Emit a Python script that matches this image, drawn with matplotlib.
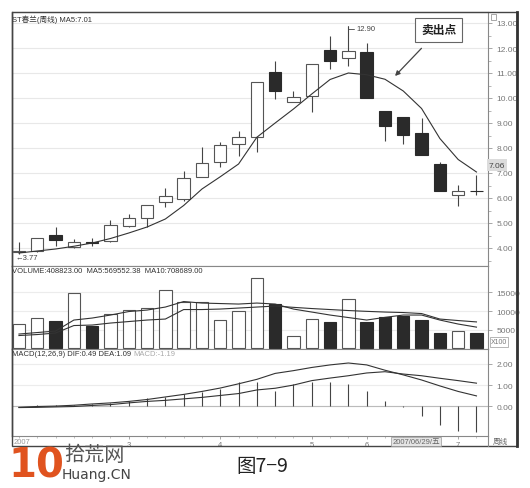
import matplotlib
matplotlib.use('Agg')
import matplotlib.pyplot as plt
from matplotlib.patches import Rectangle
from matplotlib.lines import Line2D

plt.rcParams['font.family'] = ['Liberation Sans', 'Noto Sans CJK SC', 'DejaVu Sans']

# 周线数据 (ST春兰)
opens = [3.85, 3.90, 4.52, 4.05, 4.24, 4.27, 4.90, 5.20, 5.85, 5.95, 6.85, 7.45, 8.16,
         8.45, 11.03, 9.85, 10.10, 11.93, 11.60, 11.85, 9.50, 9.25, 8.60, 7.38, 6.12, 6.28]
closes = [3.90, 4.40, 4.33, 4.25, 4.22, 4.92, 5.20, 5.72, 6.08, 6.80, 7.40, 8.12, 8.44,
          10.63, 10.30, 10.03, 11.35, 11.50, 11.90, 10.00, 8.90, 8.53, 7.72, 6.30, 6.28, 6.27]
highs = [4.25, 4.40, 4.84, 4.36, 4.40, 5.12, 5.36, 5.72, 6.40, 7.10, 8.05, 8.25, 8.70,
         10.63, 11.50, 10.30, 11.35, 12.50, 12.90, 12.20, 9.50, 9.25, 9.20, 7.46, 6.53, 6.92]
lows = [3.77, 3.85, 4.08, 4.00, 4.09, 4.25, 4.85, 4.85, 5.64, 5.90, 6.85, 7.25, 7.70,
        7.85, 9.95, 9.85, 9.45, 11.15, 11.30, 10.00, 8.30, 8.15, 7.72, 6.28, 5.70, 6.13]
ma5 = [3.80, 3.88, 3.96, 4.07, 4.20, 4.38, 4.60, 4.84, 5.16, 5.70, 6.36, 6.85, 7.36,
       8.43, 9.00, 9.56, 10.16, 10.74, 11.00, 10.93, 10.75, 10.28, 9.58, 8.38, 7.54, 7.04]

# 成交量 (x100)
volume = [6520, 8040, 7400, 14800, 6070, 9200, 10350, 10720, 15600, 12490, 12330, 7680, 10080,
          18740, 11870, 3230, 7860, 6970, 13200, 6970, 8310, 8740, 7670, 4030, 4730, 4088]
vol_ma5 = [3847, 4248, 4649, 7588, 8122, 8924, 9859, 10259, 11061, 12530, 12129, 11996, 11862,
           12129, 11862, 10526, 9725, 8924, 8256, 7588, 8309, 8924, 8924, 7588, 6519, 5696]
vol_ma10 = [3446, 3714, 4114, 6118, 6252, 6786, 7187, 7588, 7855, 10393, 10393, 10526, 10794,
            11061, 11328, 10981, 10660, 10393, 10126, 9912, 9725, 9591, 9324, 7855, 7454, 7087]

# MACD
dif = [-0.05, -0.01, 0.01, 0.05, 0.11, 0.16, 0.23, 0.32, 0.44, 0.56, 0.70, 0.86, 1.06,
       1.27, 1.55, 1.68, 1.83, 1.95, 2.04, 1.95, 1.70, 1.48, 1.24, 0.96, 0.70, 0.49]
dea = [-0.06, -0.05, -0.03, -0.01, 0.04, 0.08, 0.16, 0.23, 0.28, 0.35, 0.42, 0.51, 0.60,
       0.77, 0.85, 1.00, 1.21, 1.33, 1.44, 1.57, 1.63, 1.52, 1.44, 1.32, 1.21, 1.09]
macd = [0.00, 0.06, 0.08, 0.06, 0.10, 0.15, 0.26, 0.38, 0.42, 0.58, 0.69, 0.82, 1.13,
        1.13, 0.74, 1.05, 1.13, 1.13, 1.05, 0.74, 0.26, -0.05, -0.47, -0.88, -1.15, -1.19]

month_pos = [6, 11, 16, 19, 24]
month_labels = ['3', '4', '5', '6', '7']

W, H = 530, 489
def box(x0, y0, x1, y1):
    return [x0 / W, 1 - y1 / H, (x1 - x0) / W, (y1 - y0) / H]

fig = plt.figure(figsize=(W / 100, H / 100), dpi=100)
ax1 = fig.add_axes(box(12, 13, 488, 267))
ax2 = fig.add_axes(box(12, 267, 488, 350), sharex=ax1)
ax3 = fig.add_axes(box(12, 350, 488, 437), sharex=ax1)

x = list(range(len(opens)))
up = [c >= o for o, c in zip(opens, closes)]
fills = ['white' if u else '#2a2a2a' for u in up]
edges = ['#555555' if u else '#2a2a2a' for u in up]
dark = '#333333'

# K线
ax1.vlines(x, lows, highs, color='#444444', lw=0.8, zorder=2)
bottoms = [min(o, c) for o, c in zip(opens, closes)]
heights = [max(abs(c - o), 0.02) for o, c in zip(opens, closes)]
ax1.bar(x, heights, bottom=bottoms, width=0.68, color=fills, edgecolor=edges, lw=0.8, zorder=3)
ax1.plot(x, ma5, color=dark, lw=0.8, zorder=4)
ax1.set_ylim(3.28, 13.44)
ax1.set_xlim(-0.38, 25.63)
ax1.set_yticks(range(4, 14))
ax1.set_yticklabels(['%.2f' % v for v in range(4, 14)])
ax1.set_yticks([v + 0.5 for v in range(3, 13)], minor=True)
ax1.grid(axis='y', color='#e8e8e8', lw=0.8)

ax1.text(0.001, 0.992, 'ST春兰(周线) MA5:7.01', transform=ax1.transAxes, va='top', ha='left',
         fontsize=5.5, color=dark)
ax1.annotate('12.90', xy=(18, 12.9), xytext=(18.45, 12.78), fontsize=5.5, color='#444444',
             va='center', arrowprops=dict(arrowstyle='-', color='#444444', lw=0.6,
                                          shrinkA=0, shrinkB=0,
                                          connectionstyle='angle,angleA=0,angleB=90,rad=0'))
ax1.text(-0.2, 3.6, '←3.77', fontsize=5.5, color='#444444', va='center', ha='left')
ax1.annotate('卖出点', xy=(20.55, 10.88), xytext=(22.95, 12.72), fontsize=8.5,
             fontweight='bold', color='#222222', ha='center', va='center',
             bbox=dict(boxstyle='square,pad=0.5', fc='white', ec='#666666', lw=0.8),
             arrowprops=dict(arrowstyle='-|>', color='#444444', lw=0.9, mutation_scale=7,
                             shrinkA=6, shrinkB=0), zorder=6)

# 成交量
ax2.bar(x, volume, width=0.68, color=fills, edgecolor=edges, lw=0.8, zorder=3)
ax2.plot(x, vol_ma5, color=dark, lw=0.8, zorder=4)
ax2.plot(x, vol_ma10, color=dark, lw=0.8, zorder=4)
ax2.set_ylim(-150, 22030)
ax2.set_yticks([5000, 10000, 15000])
ax2.set_yticklabels(['5000', '10000', '15000'])
ax2.grid(axis='y', color='#ececec', lw=0.8)
ax2.text(0.001, 0.985, 'VOLUME:408823.00  MA5:569552.38  MA10:708689.00',
         transform=ax2.transAxes, va='top', ha='left', fontsize=5.5, color=dark)

# MACD
ax3.vlines(x, 0, macd, color='#444444', lw=0.8, zorder=3)
ax3.plot(x, dif, color=dark, lw=0.8, zorder=4)
ax3.plot(x, dea, color=dark, lw=0.8, zorder=4)
ax3.set_ylim(-1.40, 2.70)
ax3.set_yticks([0, 1, 2])
ax3.set_yticklabels(['0.00', '1.00', '2.00'])
ax3.axhline(0, color='#bbbbbb', lw=0.8, zorder=1)
ax3.grid(axis='y', color='#ececec', lw=0.8)
ax3.text(0.001, 0.985, 'MACD(12,26,9) DIF:0.49 DEA:1.09', transform=ax3.transAxes,
         va='top', ha='left', fontsize=5.5, color=dark)
ax3.text(0.254, 0.985, 'MACD:-1.19', transform=ax3.transAxes, va='top', ha='left',
         fontsize=5.5, color='#aaaaaa')

for ax in (ax1, ax2, ax3):
    ax.yaxis.tick_right()
    ax.tick_params(axis='y', which='major', labelsize=6, labelcolor='#777777', color='#999999',
                   length=3, width=0.6, pad=3)
    ax.tick_params(axis='y', which='minor', color='#999999', length=2, width=0.5)
    for s in ax.spines.values():
        s.set_color('#888888')
        s.set_linewidth(0.8)
    ax.spines['left'].set_color('#333333')
    ax.spines['left'].set_linewidth(1.0)
    ax.set_axisbelow(True)

for ax in (ax1, ax2):
    ax.tick_params(axis='x', which='both', bottom=False, labelbottom=False)

ax3.set_xticks(month_pos)
ax3.set_xticklabels(month_labels)
ax3.set_xticks(x, minor=True)
ax3.tick_params(axis='x', which='major', labelsize=5.5, labelcolor='#777777', color='#999999',
                length=2, width=0.6, pad=1.5)
ax3.tick_params(axis='x', which='minor', color='#aaaaaa', length=1.5, width=0.5)

# 外框与右侧标注
fig.patches.append(Rectangle((12 / W, 1 - 447 / H), 505 / W, 434 / H, transform=fig.transFigure,
                             fill=False, ec='#444444', lw=1.0))
fig.lines.append(Line2D([517 / W, 517 / W], [1 - 447 / H, 1 - 13 / H], transform=fig.transFigure,
                        color='#333333', lw=2.0))
fig.lines.append(Line2D([488 / W, 488 / W], [1 - 447 / H, 1 - 437 / H], transform=fig.transFigure,
                        color='#888888', lw=0.8))
fig.patches.append(Rectangle((491 / W, 1 - 21 / H), 5 / W, 6 / H, transform=fig.transFigure,
                             fill=False, ec='#999999', lw=0.6))
fig.text(489 / W, 1 - 166 / H, '7.06', fontsize=6, color='#444444', va='center', ha='left',
         bbox=dict(boxstyle='square,pad=0.25', fc='#dcdcdc', ec='none'))
fig.text(491 / W, 1 - 343 / H, 'X100', fontsize=5, color='#777777', va='center', ha='left',
         bbox=dict(boxstyle='square,pad=0.15', fc='white', ec='#999999', lw=0.5))
fig.text(14 / W, 1 - 442.5 / H, '2007', fontsize=5.5, color='#999999', va='center', ha='left')
fig.text(416 / W, 1 - 442.5 / H, '2007/06/29/五', fontsize=5.5, color='#666666', va='center',
         ha='center', bbox=dict(boxstyle='square,pad=0.15', fc='#e4e4e4', ec='#999999', lw=0.5))
fig.text(500 / W, 1 - 442.5 / H, '周线', fontsize=5.5, color='#666666', va='center', ha='center')

# 水印与图题
fig.text(8 / W, 1 - 467 / H, '10', fontsize=29, fontweight='heavy', color='#e0531f',
         va='center', ha='left', family=['DejaVu Sans'])
fig.text(64 / W, 1 - 455 / H, '拾荒网', fontsize=14.5, color='#555555', va='center', ha='left')
fig.text(62 / W, 1 - 475 / H, 'Huang.CN', fontsize=10, color='#444444', va='center', ha='left',
         family=['DejaVu Sans'])
fig.text(262 / W, 1 - 467 / H, '图7−9', fontsize=14, color='#222222', va='center', ha='center',
         family=['Noto Sans CJK SC', 'DejaVu Sans'])

fig.savefig('out.png', dpi=100, facecolor='white')
